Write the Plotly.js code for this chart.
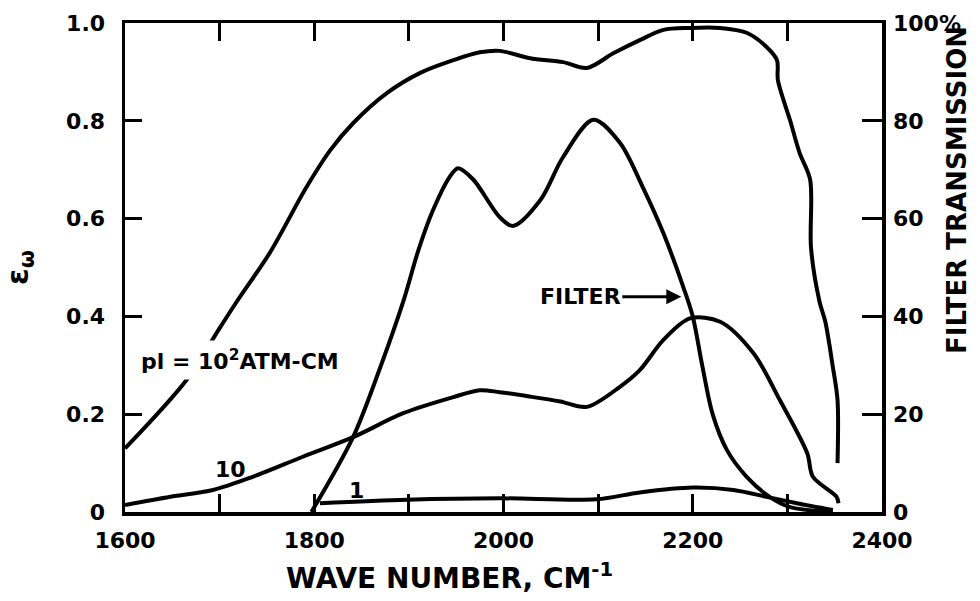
<!DOCTYPE html>
<html>
<head>
<meta charset="utf-8">
<script src="https://cdn.plot.ly/plotly-3.0.1.min.js"></script>
<style>html,body{margin:0;padding:0;background:#fff;}#chart{width:980px;height:601px;}</style>
</head>
<body>
<div id="chart"></div>
<script>
// Wave number (cm^-1) and emissivity for pl = 10^2 atm-cm
const wn100 = [1600, 1665, 1700, 1718, 1753, 1792, 1817, 1841, 1877, 1912, 1947, 1975, 1996, 2028, 2063, 2088, 2116, 2144, 2169, 2197, 2229, 2257, 2278, 2289, 2290, 2303, 2313, 2324, 2325, 2334, 2340, 2348, 2353, 2353];
const eps100 = [0.13, 0.27, 0.376, 0.43, 0.53, 0.665, 0.74, 0.795, 0.857, 0.898, 0.924, 0.94, 0.943, 0.928, 0.92, 0.908, 0.938, 0.965, 0.986, 0.99, 0.99, 0.98, 0.951, 0.924, 0.883, 0.80, 0.734, 0.68, 0.54, 0.43, 0.39, 0.297, 0.229, 0.10];

// pl = 10 atm-cm
const wn10 = [1600, 1648, 1693, 1735, 1788, 1841, 1894, 1947, 1975, 1996, 2028, 2060, 2088, 2123, 2144, 2169, 2197, 2229, 2264, 2292, 2321, 2327, 2352, 2354];
const eps10 = [0.014, 0.031, 0.045, 0.072, 0.113, 0.153, 0.202, 0.235, 0.249, 0.245, 0.236, 0.226, 0.215, 0.256, 0.29, 0.352, 0.396, 0.389, 0.325, 0.229, 0.12, 0.072, 0.031, 0.018];

// pl = 1 atm-cm
const wn1 = [1806, 1898, 1996, 2098, 2144, 2200, 2243, 2278, 2310, 2348];
const eps1 = [0.018, 0.025, 0.028, 0.026, 0.04, 0.05, 0.045, 0.031, 0.018, 0.004];

// Filter transmission (%)
const wnFilter = [1797, 1841, 1870, 1894, 1910, 1925, 1943, 1952, 1968, 1996, 2010, 2039, 2063, 2095, 2123, 2147, 2169, 2190, 2200, 2210, 2221, 2236, 2257, 2282, 2303, 2348];
const filterPct = [0, 15.3, 29.7, 43, 53.5, 61.5, 68.5, 70.3, 68, 60.3, 58.5, 63.8, 72.6, 80.2, 75.5, 66.5, 57, 46, 40, 30, 20, 12.7, 7.2, 3, 1, 0];

// Tick labels
const xTickVals = [1600, 1700, 1800, 1900, 2000, 2100, 2200, 2300, 2400];
const xTickText = ['1600', '', '1800', '', '2000', '', '2200', '', '2400'];
const yTickVals = [0, 0.2, 0.4, 0.6, 0.8, 1.0];
const yTickText = ['0', '0.2', '0.4', '0.6', '0.8', '1.0'];
const y2TickVals = [0, 20, 40, 60, 80, 100];
const y2TickText = ['0', '20', '40', '60', '80', '100%'];

const FONT = 'DejaVu Sans, Liberation Sans, sans-serif';
const INK = '#000000';
const lineStyle = {color: INK, width: 4, shape: 'spline', smoothing: 0.9};

const traces = [
  {x: wn100, y: eps100, type: 'scatter', mode: 'lines', line: lineStyle, name: 'pl = 10^2 atm-cm', hoverinfo: 'x+y'},
  {x: wn10, y: eps10, type: 'scatter', mode: 'lines', line: lineStyle, name: 'pl = 10 atm-cm', hoverinfo: 'x+y'},
  {x: wn1, y: eps1, type: 'scatter', mode: 'lines', line: lineStyle, name: 'pl = 1 atm-cm', hoverinfo: 'x+y'},
  {x: wnFilter, y: filterPct, type: 'scatter', mode: 'lines', line: lineStyle, yaxis: 'y2', name: 'Filter', hoverinfo: 'x+y'}
];

const tickFont = {family: FONT, size: 22, color: INK, weight: 'bold'};
const labelFont = {family: FONT, size: 22, color: INK, weight: 'bold'};

const layout = {
  width: 980, height: 601,
  margin: {l: 125, r: 98, t: 23, b: 89, pad: 0},
  paper_bgcolor: '#ffffff', plot_bgcolor: 'rgba(0,0,0,0)',
  showlegend: false,
  xaxis: {
    range: [1600, 2400], tickmode: 'array', tickvals: xTickVals, ticktext: xTickText,
    ticks: 'inside', ticklen: 18, tickwidth: 3, tickcolor: INK,
    showline: true, linewidth: 3.5, linecolor: INK, mirror: 'ticks',
    showgrid: false, zeroline: false, tickfont: tickFont, ticklabelstandoff: 6
  },
  yaxis: {
    range: [0, 1], tickmode: 'array', tickvals: yTickVals, ticktext: yTickText,
    ticks: 'inside', ticklen: 17, tickwidth: 3, tickcolor: INK,
    showline: true, linewidth: 3.5, linecolor: INK, mirror: true,
    showgrid: false, zeroline: false, tickfont: tickFont, ticklabelstandoff: 12,
    title: {text: 'ε<sub>ω</sub>', font: {family: FONT, size: 30, color: INK, weight: 'bold'}, standoff: 34}
  },
  yaxis2: {
    overlaying: 'y', side: 'right', range: [0, 100], tickmode: 'array', tickvals: y2TickVals, ticktext: y2TickText,
    ticks: 'inside', ticklen: 20, tickwidth: 3, tickcolor: INK,
    showline: false, showgrid: false, zeroline: false, tickfont: tickFont, ticklabelstandoff: 10
  },
  annotations: [
    {xref: 'paper', yref: 'paper', x: 0.429, y: -0.131, text: 'WAVE NUMBER, CM<sup>-1</sup>', showarrow: false,
     font: {family: FONT, size: 28, color: INK, weight: 'bold'}, xanchor: 'center', yanchor: 'middle'},
    {xref: 'paper', yref: 'paper', x: 1.100, y: 0.658, text: 'FILTER TRANSMISSION', textangle: -90, showarrow: false,
     font: {family: FONT, size: 26, color: INK, weight: 'bold'}, xanchor: 'center', yanchor: 'middle'},
    {xref: 'x', yref: 'y', x: 1611, y: 0.31, text: 'pl = 10<sup>2</sup>ATM-CM', showarrow: false, xanchor: 'left', yanchor: 'middle',
     bgcolor: '#ffffff', borderpad: 5, font: labelFont},
    {xref: 'x', yref: 'y', x: 1711, y: 0.086, text: '10', showarrow: false, font: labelFont},
    {xref: 'x', yref: 'y', x: 1845, y: 0.045, text: '1', showarrow: false, font: labelFont},
    {xref: 'x', yref: 'y', x: 2190, y: 0.44, ax: -103, ay: 0, text: 'FILTER', showarrow: true,
     arrowhead: 2, arrowsize: 1, arrowwidth: 3, arrowcolor: INK, standoff: 2, font: labelFont}
  ]
};

Plotly.newPlot('chart', traces, layout, {staticPlot: true, displayModeBar: false});
</script>
</body>
</html>
